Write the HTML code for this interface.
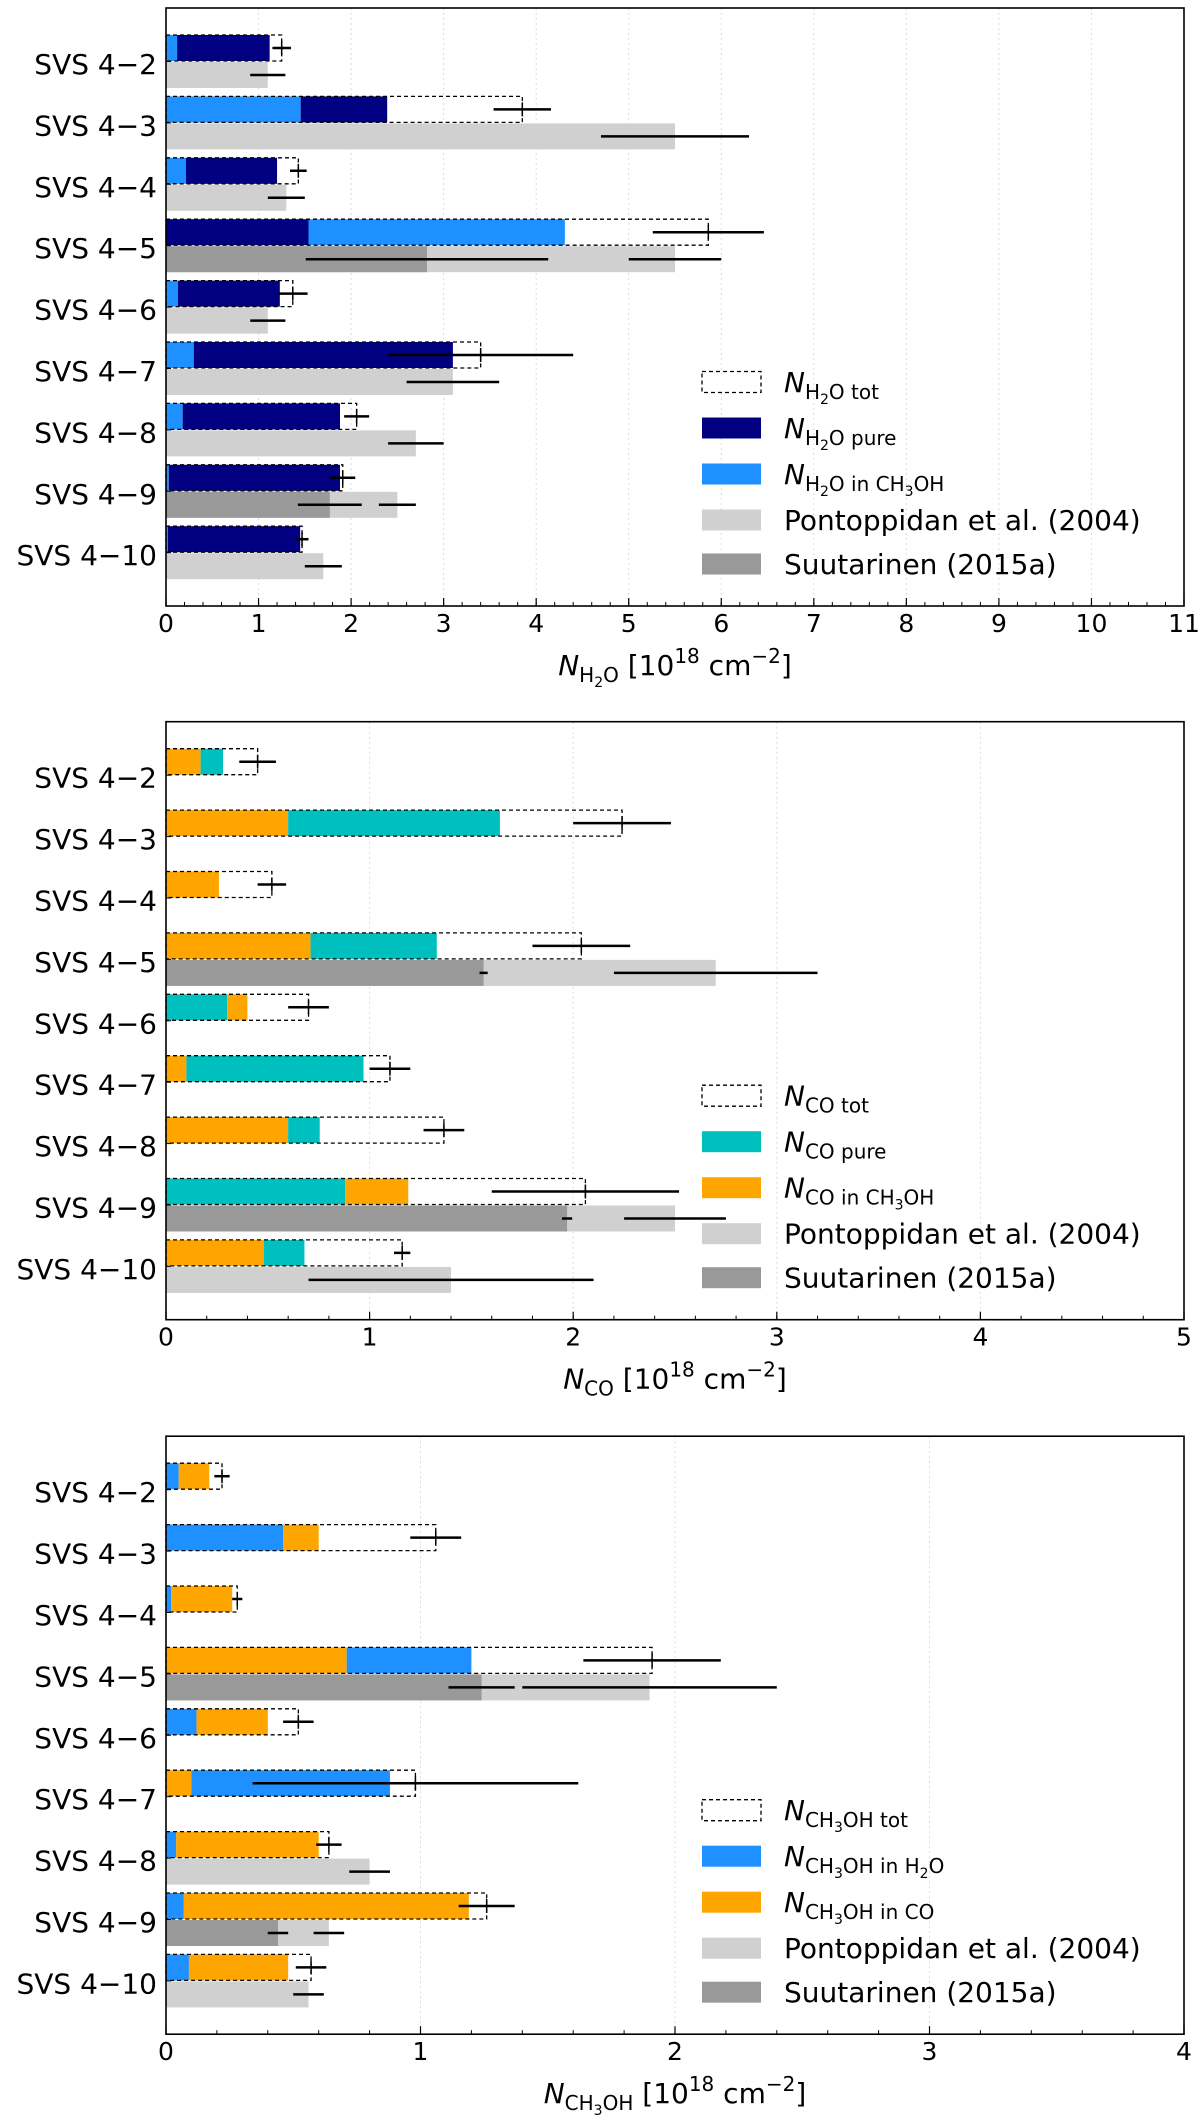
<!DOCTYPE html>
<html><head><meta charset="utf-8">
<style>
html,body{margin:0;padding:0;background:#fff;}
svg{display:block;font-family:"DejaVu Sans","Liberation Sans",sans-serif;}
</style></head>
<body>
<svg id="fig" width="1200" height="2123" viewBox="0 0 1200 2123" xmlns="http://www.w3.org/2000/svg"></svg>
<script>
const rowLabels = ['SVS 4\u22122','SVS 4\u22123','SVS 4\u22124','SVS 4\u22125','SVS 4\u22126','SVS 4\u22127','SVS 4\u22128','SVS 4\u22129','SVS 4\u221210'];

// Panel 1: H2O
const h2oInCH3OH = [0.12,1.455,0.215,2.77,0.13,0.3,0.18,0.03,0.02];
const h2oPure    = [1.0,0.935,0.985,1.54,1.1,2.8,1.7,1.85,1.43];
const h2oPureFirst = [0,0,0,1,0,0,0,0,0];
const h2oTot     = [1.25,3.85,1.43,5.86,1.37,3.4,2.06,1.91,1.47];
const h2oTotErr  = [0.1,0.31,0.09,0.6,0.16,1.0,0.135,0.135,0.07];
const h2oPont    = [1.1,5.5,1.3,5.5,1.1,3.1,2.7,2.5,1.7];
const h2oPontErr = [0.19,0.8,0.2,0.5,0.19,0.5,0.3,0.2,0.2];
const h2oSuut    = [null,null,null,2.82,null,null,null,1.77,null];
const h2oSuutErr = [null,null,null,1.31,null,null,null,0.345,null];
const h2oTicks   = [0,1,2,3,4,5,6,7,8,9,10,11];

// Panel 2: CO
const coInCH3OH = [0.17,0.6,0.26,0.71,0.1,0.1,0.6,0.31,0.48];
const coPure    = [0.11,1.04,0,0.62,0.3,0.87,0.155,0.88,0.2];
const coPureFirst = [0,0,0,0,1,0,0,1,0];
const coTot     = [0.45,2.24,0.52,2.04,0.7,1.1,1.365,2.06,1.16];
const coTotErr  = [0.09,0.24,0.07,0.24,0.1,0.1,0.1,0.46,0.04];
const coPont    = [null,null,null,2.7,null,null,null,2.5,1.4];
const coPontErr = [null,null,null,0.5,null,null,null,0.25,0.7];
const coSuut    = [null,null,null,1.56,null,null,null,1.97,null];
const coSuutErr = [null,null,null,0.02,null,null,null,0.025,null];
const coTicks   = [0,1,2,3,4,5];

// Panel 3: CH3OH
const mInH2O = [0.05,0.46,0.02,0.49,0.12,0.78,0.04,0.07,0.09];
const mInCO  = [0.12,0.14,0.24,0.71,0.28,0.1,0.56,1.12,0.39];
const mCOFirst = [0,0,0,1,0,1,0,0,0];
const mTot     = [0.22,1.06,0.28,1.91,0.52,0.98,0.64,1.26,0.57];
const mTotErr  = [0.03,0.1,0.02,0.27,0.06,0.64,0.05,0.11,0.06];
const mPont    = [null,null,null,1.9,null,null,0.8,0.64,0.56];
const mPontErr = [null,null,null,0.5,null,null,0.08,0.06,0.06];
const mSuut    = [null,null,null,1.24,null,null,null,0.44,null];
const mSuutErr = [null,null,null,0.13,null,null,null,0.04,null];
const mTicks   = [0,1,2,3,4];

const NS='http://www.w3.org/2000/svg';
const svg=document.getElementById('fig');
function mk(tag,attrs,parent){const e=document.createElementNS(NS,tag);for(const k in attrs)e.setAttribute(k,attrs[k]);(parent||svg).appendChild(e);return e;}

const L=166,R=1184,H=598;
const NAVY='#000080',DBLUE='#1E90FF',TEAL='#00BFBF',ORANGE='#FFA500',PONT='#d0d0d0',SUUT='#999999';

function richText(parent,x,y,parts,anchor){
  const t=mk('text',{x:x,y:y,'font-size':28,fill:'#000','text-anchor':anchor||'start'},parent);
  const off={0:0,1:7,2:12,'-1':-12};const fs={0:28,1:20,2:14,'-1':20};
  let cur=0;let html='';
  parts.forEach(p=>{const lv=p[1];const dy=off[lv]-cur;cur=off[lv];
    html+='<tspan dy="'+dy+'" font-size="'+fs[lv]+'"'+(p[2]?' font-style="italic"':'')+'>'+p[0]+'</tspan>';});
  t.innerHTML=html;return t;
}

function panel(cfg){
  const g=mk('g',{});
  
  
  const top=cfg.top,bot=top+H;
  const xmax=cfg.ticks[cfg.ticks.length-1];
  const xs=v=>L+(R-L)*v/xmax;
  const ys=i=>top+53.5+61.4*i;
  cfg.ticks.forEach(t=>{if(t>0&&t<xmax){const gl=mk('line',{x1:xs(t),x2:xs(t),y1:top,y2:bot,stroke:'#dcdcdc','stroke-width':1,'stroke-dasharray':'2,3'},g);
    
    }});
  const bars=mk('g',{},g);
  
  
  const errs=mk('g',{},g);
  
  
  function rect(x0,x1,y,h,fill,name){const r=mk('rect',{x:xs(x0),y:y,width:Math.max(0,xs(x1)-xs(x0)),height:h,fill:fill},bars);
    
    return r;}
  function err(c,e,y,tick,name){const l=mk('line',{x1:xs(c-e),x2:xs(c+e),y1:y,y2:y,stroke:'#000','stroke-width':2.5},errs);
    
    
    if(tick){const v=mk('line',{x1:xs(c),x2:xs(c),y1:y-7,y2:y+7,stroke:'#000','stroke-width':1.5},errs);
      
      }}
  for(let i=0;i<9;i++){
    const yt=ys(i);const ty=yt-26.5,by=yt+0.5;
    if(cfg.pont[i]!=null)rect(0,cfg.pont[i],by,26,PONT,'bar-pontoppidan');
    if(cfg.suut[i]!=null)rect(0,cfg.suut[i],by,26,SUUT,'bar-suutarinen');
    let a=cfg.a[i],b=cfg.b[i],ca=cfg.colA,cb=cfg.colB,na=cfg.nameA,nb=cfg.nameB;
    if(cfg.bFirst[i]){[a,b]=[b,a];[ca,cb]=[cb,ca];[na,nb]=[nb,na];}
    rect(0,a,ty,26,ca,na);
    rect(a,a+b,ty,26,cb,nb);
    const d=mk('rect',{x:xs(0),y:ty,width:xs(cfg.tot[i])-xs(0),height:26,fill:'none',stroke:'#000','stroke-width':1.3,'stroke-dasharray':'4,3'},bars);
    
    
    err(cfg.tot[i],cfg.totErr[i],yt-13.5,true,'error-total');
    if(cfg.pont[i]!=null)err(cfg.pont[i],cfg.pontErr[i],yt+13.5,false,'error-pontoppidan');
    if(cfg.suut[i]!=null)err(cfg.suut[i],cfg.suutErr[i],yt+13.5,false,'error-suutarinen');
    const tl=mk('text',{x:157,y:yt+3,'font-size':28,'text-anchor':'end','dominant-baseline':'central',fill:'#000'},g);
    tl.textContent=rowLabels[i];
    
    
    const tk=mk('line',{x1:L,x2:L+5,y1:yt,y2:yt,stroke:'#000','stroke-width':1},g);
    
    
  }
  const fr=mk('rect',{x:L,y:top,width:R-L,height:H,fill:'none',stroke:'#000','stroke-width':1.6},g);
  
  
  for(let v=0;v<=xmax+1e-9;v+=cfg.minor){const m=mk('line',{x1:xs(v),x2:xs(v),y1:bot,y2:bot-4,stroke:'#000','stroke-width':1},g);
    
    }
  cfg.ticks.forEach(t=>{
    const m=mk('line',{x1:xs(t),x2:xs(t),y1:bot,y2:bot-8,stroke:'#000','stroke-width':1.2},g);
    
    
    const tx=mk('text',{x:xs(t),y:top+624,'font-size':25,'text-anchor':'middle',fill:'#000'},g);
    tx.textContent=String(t);
    
    
  });
  const al=richText(g,(L+R)/2,top+667,cfg.axisParts,'middle');
  
  
  const lg=mk('g',{},g);
  
  
  const ly=[374,420,466,512,556];
  cfg.legend.forEach((e,k)=>{
    const cy=top+ly[k];
    const hr=mk('rect',{x:702,y:cy-10.5,width:59,height:21,fill:e.fill,stroke:e.dash?'#000':'none','stroke-width':1.3,'stroke-dasharray':e.dash?'4,3':'none'},lg);
    
    
    const lt=richText(lg,784,cy+10,e.parts);
    
    
  });
}
const pontL={fill:PONT,parts:[['Pontoppidan et al. (2004)',0]]};
const suutL={fill:SUUT,parts:[['Suutarinen (2015a)',0]]};
const H2O=[['H',1],['2',2],['O',1]],CH3OH=[['CH',1],['3',2],['OH',1]];
panel({name:'panel-h2o',top:8,ticks:h2oTicks,minor:0.2,a:h2oInCH3OH,b:h2oPure,bFirst:h2oPureFirst,colA:DBLUE,colB:NAVY,nameA:'bar-h2o-in-ch3oh',nameB:'bar-h2o-pure',
 tot:h2oTot,totErr:h2oTotErr,pont:h2oPont,pontErr:h2oPontErr,suut:h2oSuut,suutErr:h2oSuutErr,
 axisParts:[['N',0,1]].concat(H2O,[[' [10',0],['18',-1],[' cm',0],['\u22122',-1],[']',0]]),
 legend:[{fill:'#fff',dash:1,parts:[['N',0,1]].concat(H2O,[[' tot',1]])},{fill:NAVY,parts:[['N',0,1]].concat(H2O,[[' pure',1]])},{fill:DBLUE,parts:[['N',0,1]].concat(H2O,[[' in ',1]],CH3OH)},pontL,suutL]});
panel({name:'panel-co',top:721.7,ticks:coTicks,minor:0.2,a:coInCH3OH,b:coPure,bFirst:coPureFirst,colA:ORANGE,colB:TEAL,nameA:'bar-co-in-ch3oh',nameB:'bar-co-pure',
 tot:coTot,totErr:coTotErr,pont:coPont,pontErr:coPontErr,suut:coSuut,suutErr:coSuutErr,
 axisParts:[['N',0,1],['CO',1],[' [10',0],['18',-1],[' cm',0],['\u22122',-1],[']',0]],
 legend:[{fill:'#fff',dash:1,parts:[['N',0,1],['CO tot',1]]},{fill:TEAL,parts:[['N',0,1],['CO pure',1]]},{fill:ORANGE,parts:[['N',0,1],['CO in ',1]].concat(CH3OH)},pontL,suutL]});
panel({name:'panel-ch3oh',top:1436.2,ticks:mTicks,minor:0.2,a:mInH2O,b:mInCO,bFirst:mCOFirst,colA:DBLUE,colB:ORANGE,nameA:'bar-ch3oh-in-h2o',nameB:'bar-ch3oh-in-co',
 tot:mTot,totErr:mTotErr,pont:mPont,pontErr:mPontErr,suut:mSuut,suutErr:mSuutErr,
 axisParts:[['N',0,1]].concat(CH3OH,[[' [10',0],['18',-1],[' cm',0],['\u22122',-1],[']',0]]),
 legend:[{fill:'#fff',dash:1,parts:[['N',0,1]].concat(CH3OH,[[' tot',1]])},{fill:DBLUE,parts:[['N',0,1]].concat(CH3OH,[[' in ',1]],H2O)},{fill:ORANGE,parts:[['N',0,1]].concat(CH3OH,[[' in CO',1]])},pontL,suutL]});
</script>
</body></html>
